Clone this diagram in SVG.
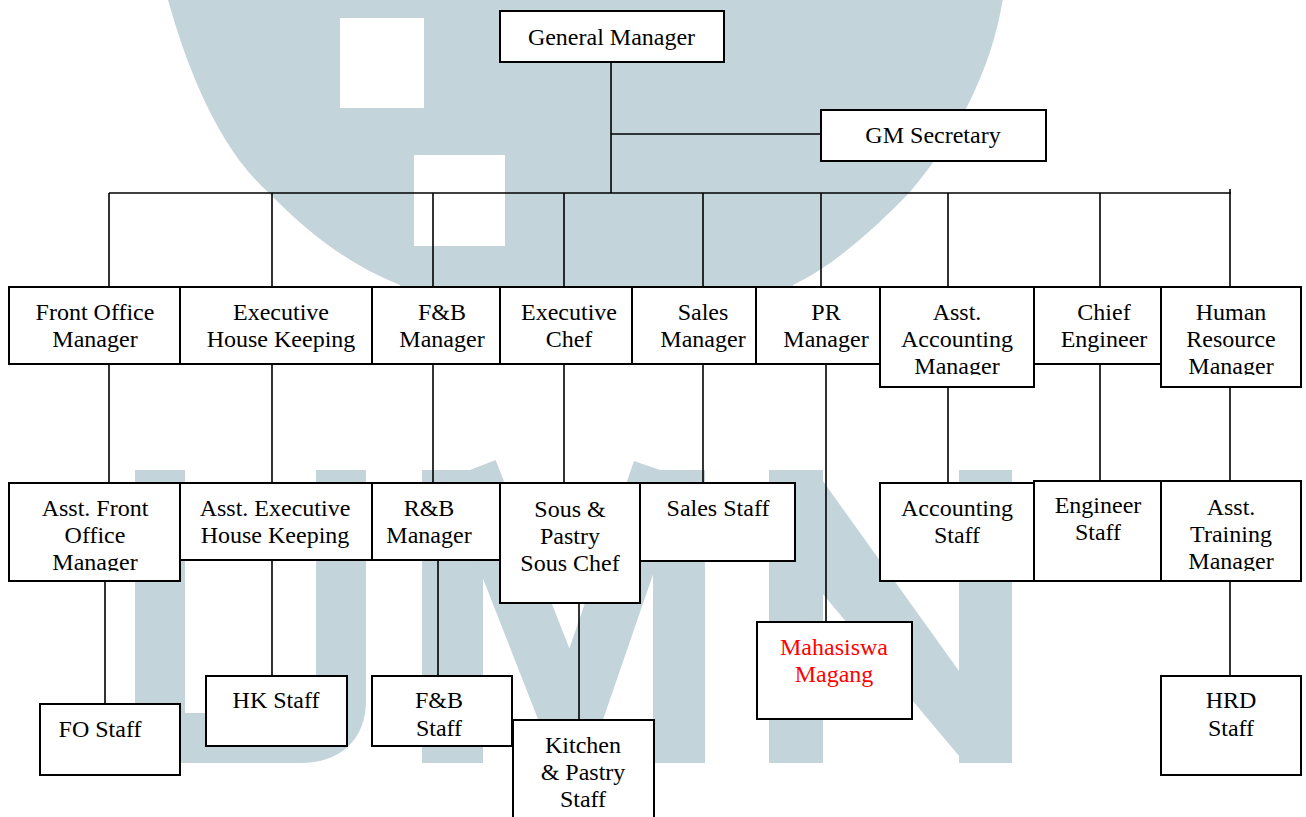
<svg xmlns="http://www.w3.org/2000/svg" width="1306" height="817" viewBox="0 0 1306 817">
<style>
.box{fill:#fff;stroke:#000;stroke-width:2}
.t{font-family:"Liberation Serif","Times New Roman",serif;font-size:24px;text-anchor:middle;fill:#000}
.red{fill:#ff0000}
.wire{stroke:#000;stroke-width:1.6;fill:none}
.wm{fill:#c3d4db}
.wms{stroke:#c3d4db;fill:none}
</style>
<defs>
<clipPath id="cAFO"><rect x="9" y="483" width="171" height="88"/></clipPath>
<clipPath id="cAAM"><rect x="880" y="287" width="154" height="88"/></clipPath>
<clipPath id="cHRM"><rect x="1161" y="287" width="140" height="88"/></clipPath>
<clipPath id="cATM"><rect x="1161" y="481" width="140" height="90"/></clipPath>
</defs>
<rect width="1306" height="817" fill="#fff"/>
<g id="watermark">
<path class="wm" d="M166,-2 L168,0 C185,60 215,145 269,193 C310,235 350,265 400,285 L400,300 L793,300 L793,285 C835,265 875,228 909,193 C955,140 992,70 1003,-2 Z"/>
<rect x="340" y="18" width="84" height="90" fill="#fff"/>
<rect x="414" y="155" width="91" height="91" fill="#fff"/>
<path class="wms" stroke-width="50" d="M160,470 V738 H300 Q341,738 341,700 V470"/>
<rect class="wm" x="422" y="470" width="61" height="293"/>
<rect class="wm" x="653" y="470" width="52" height="293"/>
<polyline class="wms" stroke-width="55" stroke-linejoin="round" points="470,470 571,728 660,470"/>
<rect class="wm" x="769" y="470" width="54" height="293"/>
<rect class="wm" x="959" y="470" width="53" height="293"/>
<polygon class="wm" points="769,470 815,470 1012,745 1012,763 965,763 769,530"/>
</g>
<g id="connectors">
<line class="wire" x1="611" y1="62" x2="611" y2="193"/>
<line class="wire" x1="611" y1="134" x2="821" y2="134"/>
<line class="wire" x1="109" y1="193" x2="1231" y2="193"/>
<line class="wire" x1="109" y1="193" x2="109" y2="287"/>
<line class="wire" x1="272" y1="193" x2="272" y2="287"/>
<line class="wire" x1="433" y1="193" x2="433" y2="287"/>
<line class="wire" x1="564" y1="193" x2="564" y2="287"/>
<line class="wire" x1="703" y1="193" x2="703" y2="287"/>
<line class="wire" x1="821" y1="193" x2="821" y2="287"/>
<line class="wire" x1="948" y1="193" x2="948" y2="287"/>
<line class="wire" x1="1100" y1="193" x2="1100" y2="287"/>
<line class="wire" x1="1230" y1="189" x2="1230" y2="287"/>
<line class="wire" x1="109" y1="364" x2="109" y2="483"/>
<line class="wire" x1="272" y1="364" x2="272" y2="483"/>
<line class="wire" x1="433" y1="364" x2="433" y2="483"/>
<line class="wire" x1="564" y1="364" x2="564" y2="483"/>
<line class="wire" x1="703" y1="364" x2="703" y2="483"/>
<line class="wire" x1="826" y1="364" x2="826" y2="622"/>
<line class="wire" x1="948" y1="387" x2="948" y2="483"/>
<line class="wire" x1="1100" y1="364" x2="1100" y2="481"/>
<line class="wire" x1="1230" y1="387" x2="1230" y2="481"/>
<line class="wire" x1="105" y1="581" x2="105" y2="704"/>
<line class="wire" x1="272" y1="560" x2="272" y2="676"/>
<line class="wire" x1="438" y1="560" x2="438" y2="676"/>
<line class="wire" x1="579" y1="603" x2="579" y2="720"/>
<line class="wire" x1="1230" y1="581" x2="1230" y2="676"/>
</g>
<g id="gm"><rect class="box" x="500" y="11" width="224" height="51"/><text class="t" x="611.5" y="45">General Manager</text></g>
<g id="gm-secretary"><rect class="box" x="821" y="110" width="225" height="51"/><text class="t" x="933" y="143">GM Secretary</text></g>
<g id="fo-manager"><rect class="box" x="9" y="287" width="171" height="77"/><text class="t" x="95" y="320">Front Office</text><text class="t" x="95" y="347">Manager</text></g>
<g id="exec-hk"><rect class="box" x="180" y="287" width="192" height="77"/><text class="t" x="281" y="320">Executive</text><text class="t" x="281" y="347">House Keeping</text></g>
<g id="fb-manager"><rect class="box" x="372" y="287" width="128" height="77"/><text class="t" x="442" y="320">F&amp;B</text><text class="t" x="442" y="347">Manager</text></g>
<g id="exec-chef"><rect class="box" x="500" y="287" width="132" height="77"/><text class="t" x="569" y="320">Executive</text><text class="t" x="569" y="347">Chef</text></g>
<g id="sales-manager"><rect class="box" x="632" y="287" width="124" height="77"/><text class="t" x="703" y="320">Sales</text><text class="t" x="703" y="347">Manager</text></g>
<g id="pr-manager"><rect class="box" x="756" y="287" width="124" height="77"/><text class="t" x="826" y="320">PR</text><text class="t" x="826" y="347">Manager</text></g>
<g id="asst-accounting-manager"><rect class="box" x="880" y="287" width="154" height="100"/><g clip-path="url(#cAAM)"><text class="t" x="957" y="320">Asst.</text><text class="t" x="957" y="347">Accounting</text><text class="t" x="957" y="374">Manager</text></g></g>
<g id="chief-engineer"><rect class="box" x="1034" y="287" width="127" height="77"/><text class="t" x="1104" y="320">Chief</text><text class="t" x="1104" y="347">Engineer</text></g>
<g id="hr-manager"><rect class="box" x="1161" y="287" width="140" height="100"/><g clip-path="url(#cHRM)"><text class="t" x="1231" y="320">Human</text><text class="t" x="1231" y="347">Resource</text><text class="t" x="1231" y="374">Manager</text></g></g>
<g id="asst-fo-manager"><rect class="box" x="9" y="483" width="171" height="98"/><g clip-path="url(#cAFO)"><text class="t" x="95" y="516">Asst. Front</text><text class="t" x="95" y="543">Office</text><text class="t" x="95" y="570">Manager</text></g></g>
<g id="asst-exec-hk"><rect class="box" x="180" y="483" width="192" height="77"/><text class="t" x="275" y="516">Asst. Executive</text><text class="t" x="275" y="543">House Keeping</text></g>
<g id="rb-manager"><rect class="box" x="372" y="483" width="128" height="77"/><text class="t" x="429" y="516">R&amp;B</text><text class="t" x="429" y="543">Manager</text></g>
<g id="sous-chef"><rect class="box" x="500" y="483" width="140" height="120"/><text class="t" x="570" y="517">Sous &amp;</text><text class="t" x="570" y="544">Pastry</text><text class="t" x="570" y="571">Sous Chef</text></g>
<g id="sales-staff"><rect class="box" x="640" y="483" width="155" height="78"/><text class="t" x="718" y="516">Sales Staff</text></g>
<g id="accounting-staff"><rect class="box" x="880" y="483" width="154" height="98"/><text class="t" x="957" y="516">Accounting</text><text class="t" x="957" y="543">Staff</text></g>
<g id="engineer-staff"><rect class="box" x="1034" y="481" width="127" height="100"/><text class="t" x="1098" y="513">Engineer</text><text class="t" x="1098" y="540">Staff</text></g>
<g id="asst-training-manager"><rect class="box" x="1161" y="481" width="140" height="100"/><g clip-path="url(#cATM)"><text class="t" x="1231" y="515">Asst.</text><text class="t" x="1231" y="542">Training</text><text class="t" x="1231" y="569">Manager</text></g></g>
<g id="fo-staff"><rect class="box" x="40" y="704" width="140" height="71"/><text class="t" x="100" y="737">FO Staff</text></g>
<g id="hk-staff"><rect class="box" x="206" y="676" width="141" height="70"/><text class="t" x="276" y="708">HK Staff</text></g>
<g id="fb-staff"><rect class="box" x="372" y="676" width="140" height="70"/><text class="t" x="439" y="708">F&amp;B</text><text class="t" x="439" y="736">Staff</text></g>
<g id="kitchen-staff"><rect class="box" x="513" y="720" width="141" height="110"/><text class="t" x="583" y="753">Kitchen</text><text class="t" x="583" y="780">&amp; Pastry</text><text class="t" x="583" y="807">Staff</text></g>
<g id="mahasiswa-magang"><rect class="box" x="757" y="622" width="155" height="97"/><text class="t red" x="834" y="655">Mahasiswa</text><text class="t red" x="834" y="682">Magang</text></g>
<g id="hrd-staff"><rect class="box" x="1161" y="676" width="140" height="99"/><text class="t" x="1231" y="708">HRD</text><text class="t" x="1231" y="736">Staff</text></g>
</svg>
